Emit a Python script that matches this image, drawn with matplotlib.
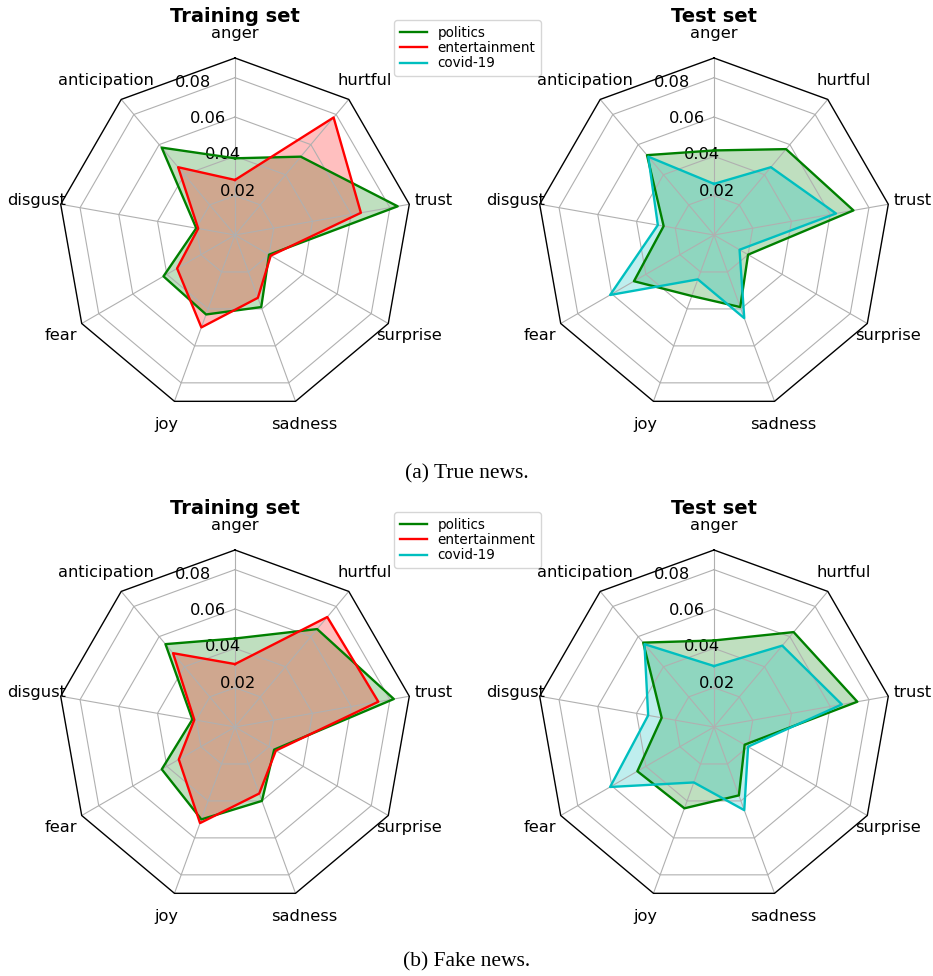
import numpy as np
import matplotlib
matplotlib.use("Agg")
import matplotlib.pyplot as plt
from matplotlib.lines import Line2D

plt.rcParams['font.size'] = 11.7

emotions = ['anger', 'anticipation', 'disgust', 'fear', 'joy',
            'sadness', 'surprise', 'trust', 'hurtful']
topics = ['politics', 'entertainment', 'covid-19']
colors = {'politics': 'g', 'entertainment': 'r', 'covid-19': 'c'}

# (a) true news
true_train_politics = [0.039, 0.058, 0.020, 0.042, 0.043, 0.039, 0.020, 0.084, 0.052]
true_train_entertainment = [0.028, 0.045, 0.019, 0.034, 0.050, 0.034, 0.021, 0.065, 0.078]
true_test_politics = [0.043, 0.053, 0.026, 0.047, 0.033, 0.039, 0.020, 0.072, 0.057]
true_test_covid = [0.026, 0.052, 0.029, 0.061, 0.024, 0.045, 0.015, 0.063, 0.045]

# (b) fake news
fake_train_politics = [0.045, 0.055, 0.022, 0.043, 0.050, 0.040, 0.023, 0.082, 0.065]
fake_train_entertainment = [0.032, 0.049, 0.021, 0.033, 0.052, 0.036, 0.024, 0.074, 0.073]
fake_test_politics = [0.044, 0.056, 0.027, 0.045, 0.044, 0.037, 0.018, 0.074, 0.063]
fake_test_covid = [0.031, 0.055, 0.034, 0.061, 0.030, 0.045, 0.020, 0.066, 0.054]

rings = [0.02, 0.04, 0.06, 0.08]
rmax = 0.09

theta = np.linspace(0, 2 * np.pi, len(emotions), endpoint=False)
theta_closed = np.append(theta, theta[0])


def radar(ax, series, title, legend=False):
    ax.set_theta_zero_location('N')
    ax.set_ylim(0, rmax)
    ax.set_yticks(rings)
    ax.set_yticklabels(['%.2f' % r for r in rings])
    ax.set_thetagrids(np.degrees(theta), emotions)
    ax.set_axisbelow(False)
    ax.yaxis.grid(False)
    ax.xaxis.grid(True, color='#b0b0b0', lw=0.8)
    ax.spines['polar'].set_visible(False)
    ax.tick_params(axis='x', pad=10.5, length=0)
    for r in rings:
        ax.plot(theta_closed, [r] * len(theta_closed), color='#b0b0b0', lw=0.8, zorder=2.5)
    ax.plot(theta_closed, [rmax] * len(theta_closed), color='k', lw=1.0, clip_on=False, zorder=3)
    for name, vals in series:
        v = np.append(vals, vals[0])
        ax.plot(theta_closed, v, color=colors[name], lw=1.7, zorder=4)
        ax.fill(theta_closed, v, facecolor=colors[name], alpha=0.25, zorder=2)
    ax.set_title(title, fontweight='bold', pad=2)
    if legend:
        handles = [Line2D([], [], color=colors[t], lw=1.7) for t in topics]
        ax.legend(handles, topics, loc=(0.95, 0.95), labelspacing=0.1, fontsize='small')


W, H = 933, 976
fig = plt.figure(figsize=(W / 100, H / 100), dpi=100)
R = 177


def box(cx, cy):
    return [(cx - R) / W, 1 - (cy + R) / H, 2 * R / W, 2 * R / H]


ax1 = fig.add_axes(box(235, 235), projection='polar')
radar(ax1, [('politics', true_train_politics), ('entertainment', true_train_entertainment)],
      'Training set', legend=True)
ax2 = fig.add_axes(box(714, 235), projection='polar')
radar(ax2, [('politics', true_test_politics), ('covid-19', true_test_covid)], 'Test set')
ax3 = fig.add_axes(box(235, 727), projection='polar')
radar(ax3, [('politics', fake_train_politics), ('entertainment', fake_train_entertainment)],
      'Training set', legend=True)
ax4 = fig.add_axes(box(714, 727), projection='polar')
radar(ax4, [('politics', fake_test_politics), ('covid-19', fake_test_covid)], 'Test set')

fig.text(0.5, 1 - 474 / H, '(a) True news.', ha='center', va='center',
         family='Liberation Serif', fontsize=15.5)
fig.text(0.5, 1 - 962 / H, '(b) Fake news.', ha='center', va='center',
         family='Liberation Serif', fontsize=15.5)

fig.savefig('out.png', dpi=100)
